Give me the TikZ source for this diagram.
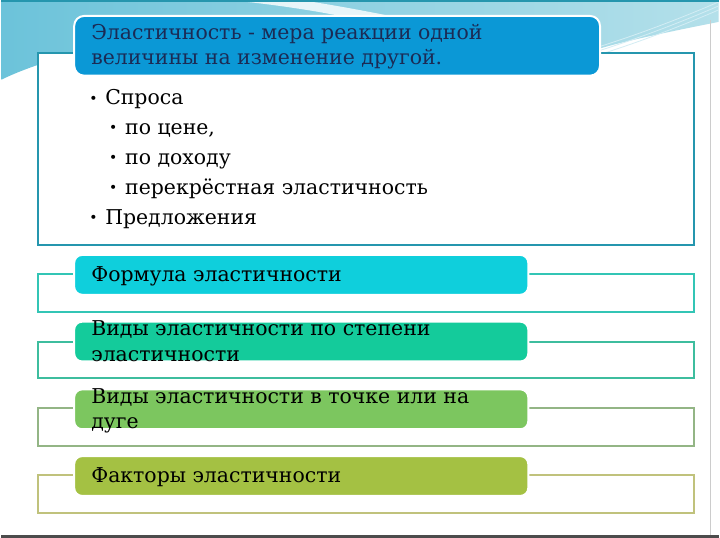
\documentclass[tikz,border=0pt]{standalone}
\usepackage{fontspec}
\setmainfont{DejaVu Serif}
\usetikzlibrary{positioning}
\definecolor{headblue}{HTML}{0B98D6}
\definecolor{headtext}{HTML}{1B2B55}
\definecolor{formulacol}{HTML}{0FCFDC}
\definecolor{degreecol}{HTML}{14CB9B}
\definecolor{pointcol}{HTML}{7CC65F}
\definecolor{factorcol}{HTML}{A4C143}
\definecolor{frameone}{HTML}{2596AE}
\definecolor{frametwo}{HTML}{33C5B5}
\definecolor{framethree}{HTML}{3DBD9E}
\definecolor{framefour}{HTML}{93B585}
\definecolor{framefive}{HTML}{C0C27C}
\definecolor{wavelight}{HTML}{B4E0EA}
\definecolor{wavedark}{HTML}{6CC3DA}
\newcommand{\blt}{\makebox[16pt][l]{\fontsize{14}{14}\selectfont\raisebox{1.5pt}{•}}}
\tikzset{
  boxframe/.style={draw=#1, line width=2pt, fill=white},
  levelbar/.style={
    rectangle,
    rounded corners=8pt,
    fill=#1,
    draw=white, line width=2pt,
    minimum width=456pt,
    minimum height=40pt,
    inner sep=0pt,
    anchor=north west},
  txt/.style={anchor=base west, inner sep=0pt, font=\fontsize{20.5}{24}\selectfont},
}
\begin{document}
\begin{tikzpicture}[x=1pt, y=-1pt]
  \fill[white] (0,0) rectangle (720,540);
  % wave on top of the slide
  \shade[left color=wavedark, right color=wavelight]
    (0,0) -- (720,0) -- (720,22) .. controls (680,30) and (620,42) .. (590,52)
    -- (80,52) .. controls (50,60) and (20,70) .. (0,80) -- cycle;
  \fill[white, opacity=.8] (228,0) .. controls (270,4) and (310,10) .. (340,16)
    -- (390,16) .. controls (350,8) and (320,3) .. (300,0) -- cycle;
  \foreach \d in {0,4,8}
    \draw[white!70!wavedark, line width=.8pt] (590,50+\d) .. controls (640,35+\d) and (690,15+\d) .. (720,2+\d);
  \draw[frameone, line width=2pt] (0,1) -- (720,1);
  \draw[black!20, line width=1pt] (712,20) -- (712,537);
  \draw[black!70, line width=3pt] (0,538.5) -- (720,538.5);

  % frames
  \draw[boxframe=frameone]   (37,53)  rectangle (695,246);
  \draw[boxframe=frametwo]   (37,275) rectangle (695,313);
  \draw[boxframe=framethree] (37,343) rectangle (695,380);
  \draw[boxframe=framefour]  (37,410) rectangle (695,448);
  \draw[boxframe=framefive]  (37,477) rectangle (695,515);

  % bars
  \node[levelbar=headblue, minimum width=528pt, minimum height=60pt, rounded corners=10pt] (head) at (72,15) {};
  \node[levelbar=formulacol] (formula) at (72,255) {};
  \node[levelbar=degreecol]  (degree)  at (72,322) {};
  \node[levelbar=pointcol]   (point)   at (72,390) {};
  \node[levelbar=factorcol]  (factors) at (72,457) {};

  \node[txt, text=headtext] (head1) at (90,40) {Эластичность - мера реакции одной};
  \node[txt, text=headtext] (head2) at (90,65) {величины на изменение другой.};

  \node[txt] (demand)  at (88,105) {\blt Спроса};
  \node[txt] (price)   at (108,135) {\blt по цене,};
  \node[txt] (income)  at (108,165) {\blt по доходу};
  \node[txt] (cross)   at (108,195) {\blt перекрёстная эластичность};
  \node[txt] (supply)  at (88,225) {\blt Предложения};

  \node[txt] (formula1) at (90,283) {Формула эластичности};
  \node[txt] (degree1)  at (90,337) {Виды эластичности по степени};
  \node[txt] (degree2)  at (90,363) {эластичности};
  \node[txt] (point1)   at (90,405) {Виды эластичности в точке или на};
  \node[txt] (point2)   at (90,430) {дуге};
  \node[txt] (factors1) at (90,485) {Факторы эластичности};
\end{tikzpicture}
\end{document}
